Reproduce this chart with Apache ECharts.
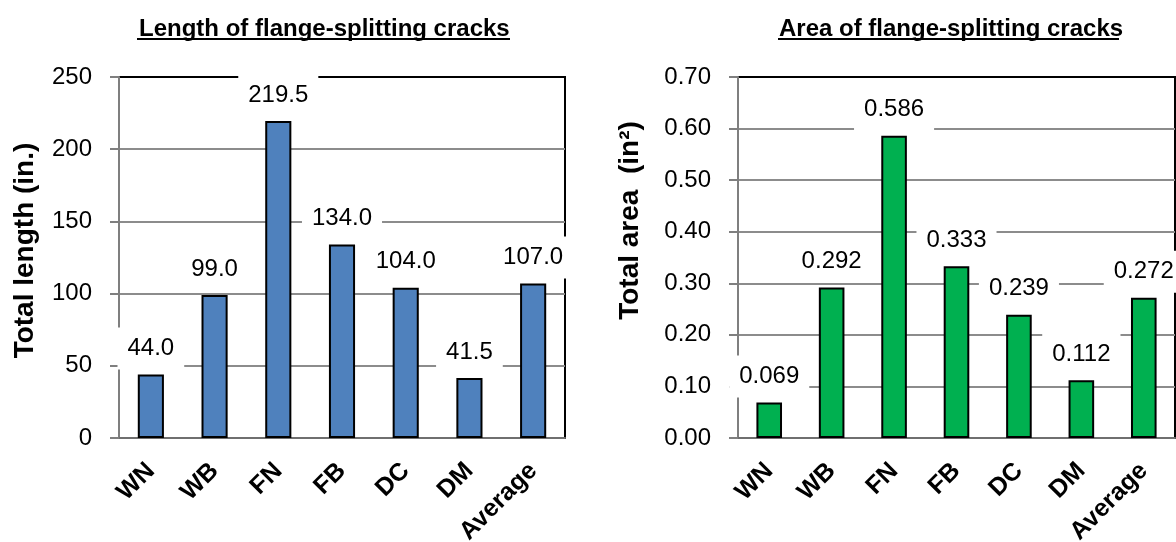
<!DOCTYPE html>
<html>
<head>
<meta charset="utf-8">
<script src="https://cdn.jsdelivr.net/npm/echarts@6/dist/echarts.min.js"></script>
<style>
  html, body { margin: 0; padding: 0; background: #fff; }
  #chart { width: 1176px; height: 542px; }
</style>
</head>
<body>
<div id="chart"></div>
<script>
// ---- data ----
const categories = ['WN', 'WB', 'FN', 'FB', 'DC', 'DM', 'Average'];
const lengthValues = [44.0, 99.0, 219.5, 134.0, 104.0, 41.5, 107.0];
const areaValues = [0.069, 0.292, 0.586, 0.333, 0.239, 0.112, 0.272];
const lengthTitle = 'Length of flange-splitting cracks';
const areaTitle = 'Area of flange-splitting cracks';
const lengthAxisName = 'Total length (in.)';
const areaAxisName = 'Total area  (in\u00B2)';
const lengthAxis = { min: 0, max: 250, interval: 50 };
const areaAxis = { min: 0, max: 0.7, interval: 0.1 };

// ---- styles ----
const FONT = '"Liberation Sans", Arial, sans-serif';
const GRID_GRAY = '#8c8c8c';
const AXIS_GRAY = '#7f7f7f';

function yAxisCfg(gridIndex, ax, name, fmt, namePad, nameGap) {
  return {
    type: 'value', gridIndex: gridIndex, z: 1,
    min: ax.min, max: ax.max, interval: ax.interval,
    name: name, nameLocation: 'middle', nameGap: nameGap, nameRotate: 90,
    nameTextStyle: { fontFamily: FONT, fontSize: 28, fontWeight: 'bold', color: '#000', padding: namePad },
    axisLine: { show: true, lineStyle: { color: AXIS_GRAY, width: 2 } },
    axisTick: { show: true, length: 9, lineStyle: { color: AXIS_GRAY, width: 2 } },
    axisLabel: { fontFamily: FONT, fontSize: 24, color: '#000', margin: 27, formatter: fmt },
    splitLine: { show: true, showMinLine: false, showMaxLine: false, lineStyle: { color: GRID_GRAY, width: 2 } }
  };
}
function xAxisCfg(gridIndex) {
  return {
    type: 'category', gridIndex: gridIndex, z: 1, data: categories,
    axisLine: { show: true, lineStyle: { color: '#6f6f6f', width: 2 } },
    axisTick: { show: false },
    axisLabel: { interval: 0, rotate: 45, margin: 29, fontFamily: FONT, fontSize: 25, fontWeight: 'bold', color: '#000' }
  };
}
function barSeries(idx, values, color, digits) {
  return {
    type: 'bar', xAxisIndex: idx, yAxisIndex: idx, data: values, barWidth: '41%',
    itemStyle: { color: color, borderColor: '#000', borderWidth: 2 },
    label: {
      show: true, position: 'top', distance: 5,
      fontFamily: FONT, fontSize: 24, color: '#000',
      backgroundColor: '#fff', padding: [9, 10],
      formatter: p => Number(p.value).toFixed(digits)
    },
    emphasis: { disabled: true },
    animation: false
  };
}

const chart = echarts.init(document.getElementById('chart'), null, { renderer: 'canvas' });
chart.setOption({
  animation: false,
  backgroundColor: '#fff',
  title: [
    { text: lengthTitle, left: 134, top: 12, textStyle: { fontFamily: FONT, fontSize: 24, fontWeight: 'bold', color: '#000' } },
    { text: areaTitle, left: 774, top: 12, textStyle: { fontFamily: FONT, fontSize: 24, fontWeight: 'bold', color: '#000' } }
  ],
  graphic: [
    { type: 'line', shape: { x1: 137, y1: 39, x2: 510, y2: 39 }, style: { stroke: '#000', lineWidth: 2 } },
    { type: 'line', shape: { x1: 778, y1: 39, x2: 1119, y2: 39 }, style: { stroke: '#000', lineWidth: 2 } }
  ],
  grid: [
    { left: 119, top: 77, width: 446, height: 361, outerBoundsMode: 'none', containLabel: false, show: true, borderColor: '#000', borderWidth: 2, backgroundColor: 'transparent' },
    { left: 738, top: 77, width: 437, height: 361, outerBoundsMode: 'none', containLabel: false, show: true, borderColor: '#000', borderWidth: 2, backgroundColor: 'transparent' }
  ],
  xAxis: [xAxisCfg(0), xAxisCfg(1)],
  yAxis: [
    yAxisCfg(0, lengthAxis, lengthAxisName, v => String(Math.round(v)), [0, 0, 0, 14], 80),
    yAxisCfg(1, areaAxis, areaAxisName, v => v.toFixed(2), [0, 0, 0, 74], 94)
  ],
  series: [
    barSeries(0, lengthValues, '#4F81BD', 1),
    barSeries(1, areaValues, '#00B050', 3)
  ]
});
</script>
</body>
</html>
